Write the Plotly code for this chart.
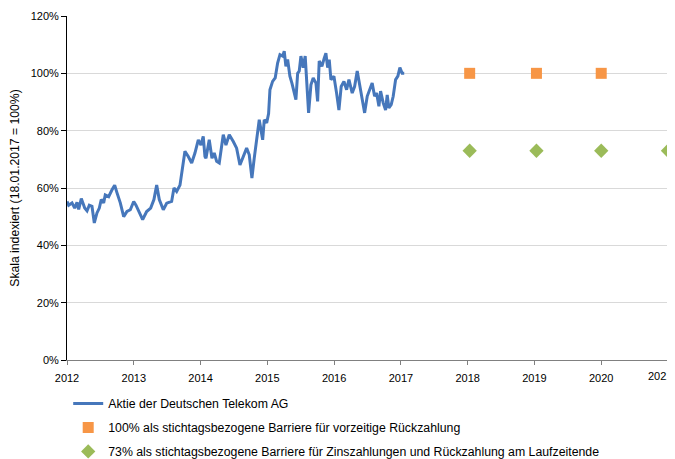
import plotly.graph_objects as go

# Stock index (decimal year, % of 18.01.2017 level)
stock_year = [
    2012.00, 2012.025, 2012.075, 2012.115, 2012.15, 2012.175, 2012.214, 2012.265, 2012.30, 2012.334,
    2012.374, 2012.409, 2012.449, 2012.484, 2012.513, 2012.549, 2012.573, 2012.624, 2012.674, 2012.714,
    2012.749, 2012.798, 2012.849, 2012.898, 2012.948, 2012.999, 2013.033, 2013.067, 2013.133, 2013.193,
    2013.253, 2013.302, 2013.343, 2013.382, 2013.442, 2013.493, 2013.567, 2013.602, 2013.642, 2013.692,
    2013.732, 2013.766, 2013.816, 2013.867, 2013.916, 2013.966, 2014.006, 2014.040, 2014.066, 2014.081,
    2014.130, 2014.171, 2014.205, 2014.241, 2014.280, 2014.320, 2014.340, 2014.380, 2014.430, 2014.490,
    2014.540, 2014.590, 2014.630, 2014.690, 2014.729, 2014.769, 2014.804, 2014.855, 2014.879, 2014.930,
    2014.954, 2014.990, 2015.019, 2015.039, 2015.079, 2015.118, 2015.154, 2015.189, 2015.229, 2015.253,
    2015.278, 2015.304, 2015.338, 2015.368, 2015.403, 2015.428, 2015.454, 2015.478, 2015.503, 2015.537,
    2015.567, 2015.588, 2015.618, 2015.653, 2015.687, 2015.728, 2015.753, 2015.777, 2015.817, 2015.852,
    2015.877, 2015.903, 2015.927, 2015.952, 2015.997, 2016.037, 2016.072, 2016.106, 2016.147, 2016.187,
    2016.222, 2016.271, 2016.307, 2016.346, 2016.386, 2016.421, 2016.457, 2016.496, 2016.536, 2016.570,
    2016.606, 2016.636, 2016.671, 2016.696, 2016.735, 2016.771, 2016.795, 2016.820, 2016.855, 2016.885,
    2016.921, 2016.955, 2016.985, 2017.019, 2017.05,
]
stock_value = [
    55.3, 54.0, 54.8, 53.0, 55.0, 52.5, 56.3, 53.0, 52.0, 54.0,
    53.6, 47.8, 51.3, 53.0, 56.0, 54.8, 57.6, 57.0, 59.4, 61.0,
    58.3, 54.8, 50.0, 51.8, 52.4, 55.3, 54.0, 52.4, 49.0, 51.8,
    53.0, 56.0, 61.0, 56.0, 52.4, 54.7, 55.3, 60.0, 58.8, 61.0,
    67.5, 72.8, 71.0, 68.7, 72.2, 76.8, 75.0, 78.0, 71.0, 70.4,
    76.8, 70.4, 72.2, 69.3, 68.7, 76.2, 78.6, 75.0, 78.6, 76.2,
    73.9, 68.0, 70.4, 73.9, 71.6, 63.5, 70.4, 79.2, 83.8, 76.8,
    83.8, 82.7, 86.0, 94.3, 97.2, 98.4, 103.6, 106.5, 106.0, 107.7,
    102.4, 104.8, 99.0, 96.6, 92.5, 90.8, 100.0, 100.8, 106.0, 102.0,
    106.0, 99.0, 86.2, 96.0, 98.4, 96.6, 90.2, 104.3, 102.4, 105.3,
    107.0, 102.0, 104.8, 97.8, 99.0, 93.1, 87.2, 95.4, 97.2, 94.3,
    97.8, 93.1, 95.4, 100.8, 95.4, 90.8, 86.2, 92.0, 94.3, 96.6,
    92.0, 93.1, 88.5, 93.8, 89.7, 87.2, 92.5, 87.9, 89.1, 92.0,
    97.8, 99.0, 102.0, 100.0, 100.0,
]

# Barriers
early_year = [2018.03, 2019.03, 2020.0]
early_value = [100, 100, 100]
coupon_year = [2018.03, 2019.03, 2020.0, 2021.0]
coupon_value = [73, 73, 73, 73]

year_ticks = list(range(2012, 2022))
year_labels = [str(y) for y in year_ticks]

FONT = "Liberation Sans"

fig = go.Figure()
fig.add_trace(go.Scatter(
    x=stock_year, y=stock_value, mode="lines",
    line=dict(color="#4677BB", width=3),
    name="Aktie der Deutschen Telekom AG", legendgroup="a",
))
fig.add_trace(go.Scatter(
    x=early_year, y=early_value, mode="markers",
    marker=dict(symbol="square", size=11, color="#F79646"),
    name="100% als stichtagsbezogene Barriere für vorzeitige Rückzahlung", legendgroup="b",
    cliponaxis=False,
))
fig.add_trace(go.Scatter(
    x=coupon_year, y=coupon_value, mode="markers",
    marker=dict(symbol="diamond", size=11, color="#9BBB59"),
    name="73% als stichtagsbezogene Barriere für Zinszahlungen und Rückzahlung am Laufzeitende",
    legendgroup="c", cliponaxis=False,
))

# last year label is drawn as an annotation, nudged inward like in the original
tick_text = year_labels[:-1] + [""]
fig.add_annotation(
    x=year_ticks[-1], y=0, xref="x", yref="y", text=year_labels[-1],
    showarrow=False, xanchor="center", yanchor="top", xshift=-8, yshift=-8,
    font=dict(family=FONT, size=11, color="#000000"),
)

# The page body adds an 8px offset, so the margins are shifted accordingly
fig.update_layout(
    width=675, height=459,
    margin=dict(l=59, r=15, t=8, b=107, autoexpand=False),
    paper_bgcolor="white", plot_bgcolor="white",
    font=dict(family=FONT, size=11, color="#000000"),
    showlegend=True,
    legend=dict(
        x=0.002, xanchor="left", y=-0.084, yanchor="top",
        orientation="v", tracegroupgap=5,
        font=dict(family=FONT, size=12.3, color="#000000"),
        bgcolor="rgba(0,0,0,0)",
    ),
    xaxis=dict(
        range=[2012, 2021], tickmode="array", tickvals=year_ticks,
        ticktext=tick_text,
        showgrid=False, zeroline=False, automargin=False,
        ticklabeloverflow="allow", ticklabelstandoff=4,
        showline=True, linecolor="#808080", linewidth=1,
        ticks="outside", ticklen=4, tickcolor="#808080",
        tickfont=dict(family=FONT, size=11),
    ),
    yaxis=dict(
        range=[0, 120], tickmode="array", tickvals=[0, 20, 40, 60, 80, 100, 120],
        ticktext=["0%", "20%", "40%", "60%", "80%", "100%", "120%"],
        showgrid=True, gridcolor="#D9D9D9", gridwidth=1, zeroline=False,
        automargin=False,
        showline=True, linecolor="#000000", linewidth=1,
        ticks="outside", ticklen=5, tickcolor="#000000",
        tickfont=dict(family=FONT, size=11),
        title=dict(text="Skala indexiert (18.01.2017 = 100%)", font=dict(family=FONT, size=12.2), standoff=9),
    ),
)

fig.write_html("out.html")
